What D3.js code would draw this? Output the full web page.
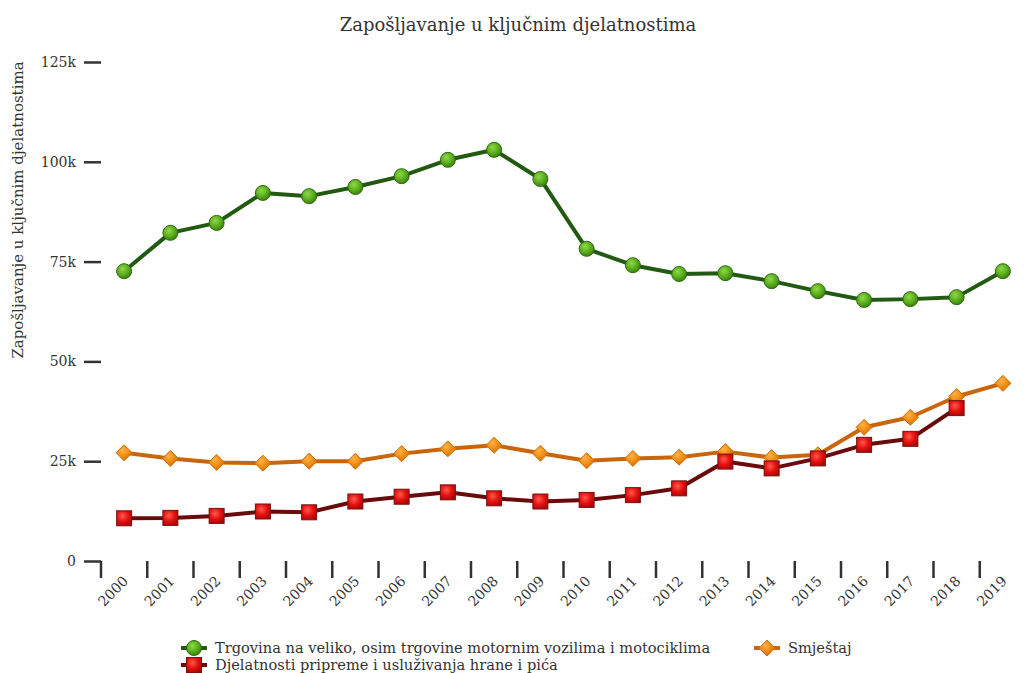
<!DOCTYPE html>
<html>
<head>
<meta charset="utf-8">
<script src="https://cdn.jsdelivr.net/npm/d3@7"></script>
<style>
  body { margin: 0; background: #fff; }
  svg text { font-family: "DejaVu Serif", serif; fill: #333; }
</style>
</head>
<body>
<div id="chart"></div>
<script>
// data
var years = ["2000","2001","2002","2003","2004","2005","2006","2007","2008","2009",
             "2010","2011","2012","2013","2014","2015","2016","2017","2018","2019"];
var trgovina = [72.6, 82.2, 84.7, 92.2, 91.4, 93.7, 96.4, 100.5, 103.0, 95.7,
                78.2, 74.1, 71.9, 72.1, 70.1, 67.6, 65.4, 65.6, 66.1, 72.6];
var smjestaj = [27.1, 25.7, 24.7, 24.5, 25.0, 25.0, 26.9, 28.1, 29.0, 27.0,
                25.1, 25.7, 26.0, 27.4, 25.9, 26.6, 33.5, 36.0, 41.2, 44.5];
var hrana = [10.7, 10.8, 11.3, 12.4, 12.2, 14.9, 16.1, 17.2, 15.7, 14.9,
             15.3, 16.5, 18.2, 24.9, 23.2, 25.7, 29.1, 30.6, 38.3, null];
var yTicks = [0, 25000, 50000, 75000, 100000, 125000];

var width = 1025, height = 673;
var pLeft = 101, pRight = 1026, pTop = 62, pBottom = 561;

var svg = d3.select('#chart').append('svg')
    .attr('width', width)
    .attr('height', height);

var defs = svg.append('defs');
function grad(id, light, mid, dark) {
    var g = defs.append('radialGradient').attr('id', id)
        .attr('cx', '40%').attr('cy', '35%').attr('r', '70%');
    g.append('stop').attr('offset', '0%').attr('stop-color', light);
    g.append('stop').attr('offset', '55%').attr('stop-color', mid);
    g.append('stop').attr('offset', '100%').attr('stop-color', dark);
}
grad('gGreen', '#8fd84a', '#5aae1c', '#3a7a0c');
grad('gOrange', '#ffb347', '#ef8a12', '#c86a06');
grad('gRed', '#ff5a4a', '#e41010', '#a80808');

var x = d3.scaleBand().domain(years).range([pLeft, pRight]);
var y = d3.scaleLinear().domain([0, 125000]).range([pBottom, pTop]);

svg.append('text')
    .attr('x', 518).attr('y', 31)
    .attr('text-anchor', 'middle')
    .style('font-size', '18px')
    .text('Zapošljavanje u ključnim djelatnostima');

var yAxis = svg.append('g')
    .attr('transform', 'translate(' + pLeft + ',0)')
    .call(d3.axisLeft(y).tickValues(yTicks).tickSize(17).tickPadding(8)
        .tickFormat(function (d) { return d === 0 ? '0' : (d / 1000) + 'k'; }));
yAxis.select('.domain').remove();
yAxis.selectAll('line').attr('stroke', '#333').attr('stroke-width', 2.5);
yAxis.selectAll('text').style('font-size', '14px').style('font-family', '"DejaVu Serif", serif').attr('fill', '#333');

var xAxis = svg.append('g')
    .attr('transform', 'translate(0,' + pBottom + ')')
    .call(d3.axisBottom(x).tickSize(17).tickFormat(''));
xAxis.select('.domain').remove();
xAxis.selectAll('.tick line')
    .attr('transform', 'translate(' + (-x.bandwidth() / 2) + ',0)')
    .attr('stroke', '#333').attr('stroke-width', 2.5);

svg.append('g').selectAll('text')
    .data(years).enter().append('text')
    .attr('transform', function (d) {
        return 'translate(' + (x(d) + x.bandwidth() / 2 + 5) + ',' + (pBottom + 21) + ') rotate(-45)';
    })
    .attr('text-anchor', 'end')
    .style('font-size', '14px')
    .text(function (d) { return d; });

svg.append('text')
    .attr('transform', 'translate(23,210) rotate(-90)')
    .attr('text-anchor', 'middle')
    .style('font-size', '15px')
    .text('Zapošljavanje u ključnim djelatnostima');

var series = [
    { name: 'Trgovina na veliko, osim trgovine motornim vozilima i motociklima', values: trgovina, line: '#215a10', fill: 'url(#gGreen)', edge: '#2e6a10', shape: 'circle' },
    { name: 'Smještaj', values: smjestaj, line: '#c9650a', fill: 'url(#gOrange)', edge: '#d07008', shape: 'diamond' },
    { name: 'Djelatnosti pripreme i usluživanja hrane i pića', values: hrana, line: '#6a0a0a', fill: 'url(#gRed)', edge: '#7a1010', shape: 'square' }
];

var line = d3.line()
    .defined(function (d) { return d != null; })
    .x(function (d, i) { return x(years[i]) + x.bandwidth() / 2; })
    .y(function (d) { return y(d * 1000); });

function marker(g, s, cx, cy) {
    if (s.shape === 'circle') {
        g.append('circle').attr('cx', cx).attr('cy', cy).attr('r', 7.5)
            .attr('fill', s.fill).attr('stroke', s.edge).attr('stroke-width', 1);
    } else if (s.shape === 'square') {
        g.append('rect').attr('x', cx - 7.5).attr('y', cy - 7.5).attr('width', 15).attr('height', 15)
            .attr('fill', s.fill).attr('stroke', s.edge).attr('stroke-width', 1);
    } else {
        g.append('path').attr('d', 'M' + cx + ',' + (cy - 8) + 'L' + (cx + 8) + ',' + cy + 'L' + cx + ',' + (cy + 8) + 'L' + (cx - 8) + ',' + cy + 'Z')
            .attr('fill', s.fill).attr('stroke', s.edge).attr('stroke-width', 1);
    }
}

// draw order: green, orange, red on top
series.forEach(function (s) {
    var g = svg.append('g');
    g.append('path').datum(s.values)
        .attr('d', line)
        .attr('fill', 'none')
        .attr('stroke', s.line)
        .attr('stroke-width', 4)
        .attr('stroke-linejoin', 'round');
    s.values.forEach(function (v, i) {
        if (v == null) return;
        marker(g, s, x(years[i]) + x.bandwidth() / 2, y(v * 1000));
    });
});

// legend
var legend = svg.append('g');
var items = [
    { s: series[0], lx: 181, ly: 648 },
    { s: series[1], lx: 754, ly: 648 },
    { s: series[2], lx: 181, ly: 665 }
];
items.forEach(function (it) {
    legend.append('line')
        .attr('x1', it.lx).attr('x2', it.lx + 26)
        .attr('y1', it.ly).attr('y2', it.ly)
        .attr('stroke', it.s.line).attr('stroke-width', 4);
    marker(legend, it.s, it.lx + 13, it.ly);
    legend.append('text')
        .attr('x', it.lx + 34).attr('y', it.ly + 5)
        .style('font-size', '14.6px')
        .text(it.s.name);
});
</script>
</body>
</html>
